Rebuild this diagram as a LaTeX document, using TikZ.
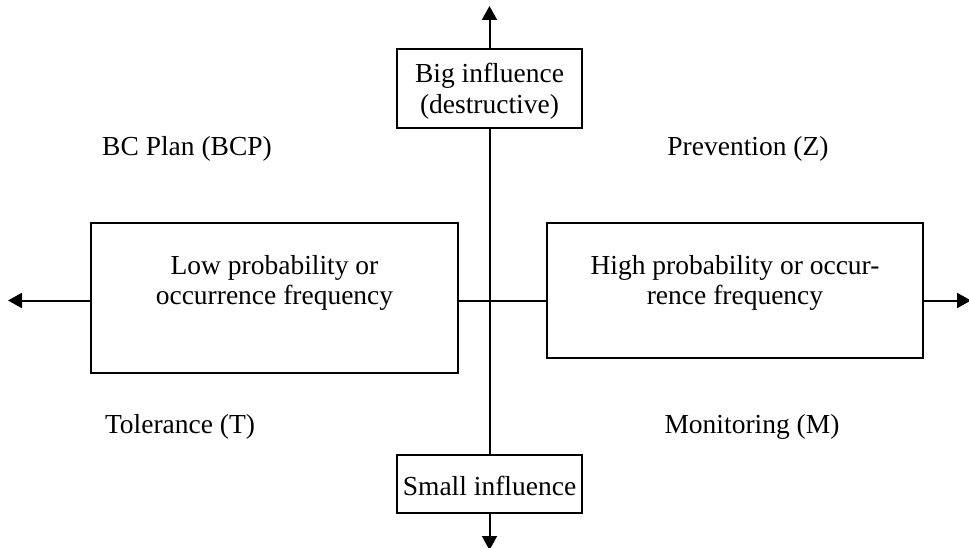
\documentclass[tikz,border=0pt]{standalone}
\usepackage{fontspec}
\setmainfont{Liberation Serif}
\usetikzlibrary{arrows.meta}
\begin{document}
\begin{tikzpicture}[x=1pt,y=-1pt,
  ln/.style={line width=2pt},
  arr/.style={ln,-{Triangle[width=15pt,length=14pt]}},
  boxnode/.style={draw,line width=2pt,fill=white,inner sep=0pt},
  txt/.style={font=\fontsize{27.5}{30.5}\selectfont,align=center,inner sep=0pt},
  lbl/.style={font=\fontsize{27.5}{30.5}\selectfont,inner sep=0pt}]
\useasboundingbox (0,0) rectangle (969,548);
% boxes
\node[boxnode,minimum width=185pt,minimum height=79pt] (top) at (489.5,88.5) {};
\node[boxnode,minimum width=185pt,minimum height=58pt] (bot) at (489.5,484) {};
\node[boxnode,minimum width=367pt,minimum height=150pt] (lbox) at (274.5,298) {};
\node[boxnode,minimum width=376pt,minimum height=135pt] (rbox) at (735,290.5) {};
% texts
\node[txt] (toptxt) at (489.5,91) {Big influence\\(destructive)};
\node[txt] (bottxt) at (489.5,486) {Small influence};
\node[txt] (ltxt) at (274.5,283) {Low probability or\\occurrence frequency};
\node[txt] (rtxt) at (735,283) {High probability or occur-\\rence frequency};
\node[lbl] (bcp) at (187,149) {BC Plan (BCP)};
\node[lbl] (prev) at (748,149) {Prevention (Z)};
\node[lbl] (tol) at (180,427) {Tolerance (T)};
\node[lbl] (mon) at (752,427) {Monitoring (M)};
% axes
\coordinate (c) at (489.5,300.5);
\coordinate (tt) at (489.5,6);
\coordinate (bt) at (489.5,550);
\coordinate (lt) at (8,300.5);
\coordinate (rt) at (971,300.5);
\draw[arr] (top.north) -- (tt);
\draw[arr] (bot.south) -- (bt);
\draw[ln] (top.south) -- (bot.north);
\draw[ln] (lbox.east |- c) -- (rbox.west |- c);
\draw[arr] (lbox.west |- c) -- (lt);
\draw[arr] (rbox.east |- c) -- (rt);
\end{tikzpicture}
\end{document}
